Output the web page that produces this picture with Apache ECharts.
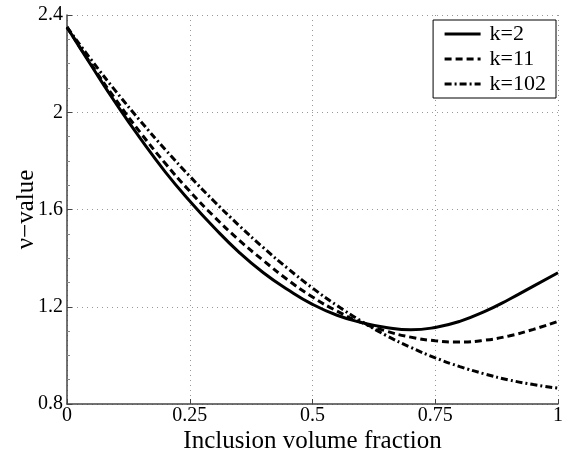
<!DOCTYPE html>
<html>
<head>
<meta charset="utf-8">
<script src="https://cdn.jsdelivr.net/npm/echarts@6/dist/echarts.min.js"></script>
<style>
html, body { margin: 0; padding: 0; background: #fff; }
#chart { width: 564px; height: 456px; }
</style>
</head>
<body>
<div id="chart"></div>
<script>
// volume fraction samples
var fractions = [0, 0.05, 0.1, 0.15, 0.2, 0.25, 0.3, 0.35, 0.4, 0.45, 0.5,
                 0.55, 0.6, 0.65, 0.7, 0.75, 0.8, 0.85, 0.9, 0.95, 1];
// nu-value
var k2   = [2.35, 2.19, 2.035, 1.89, 1.755, 1.635, 1.525, 1.425, 1.34, 1.27, 1.21,
            1.165, 1.135, 1.115, 1.105, 1.115, 1.14, 1.18, 1.23, 1.285, 1.34];
var k11  = [2.35, 2.195, 2.05, 1.915, 1.79, 1.675, 1.57, 1.475, 1.39, 1.31, 1.24,
            1.182, 1.135, 1.10, 1.075, 1.06, 1.055, 1.062, 1.08, 1.107, 1.14];
var k102 = [2.35, 2.214, 2.085, 1.963, 1.847, 1.737, 1.633, 1.535, 1.443, 1.357, 1.277,
            1.205, 1.14, 1.082, 1.033, 0.99, 0.954, 0.924, 0.899, 0.88, 0.865];
var names = ['k=2', 'k=11', 'k=102'];

var font = 'Liberation Serif';

var pairs = function (ys) {
    return fractions.map(function (x, i) { return [x, ys[i]]; });
};

var mkSeries = function (name, ys, dash) {
    return {
        name: name,
        type: 'line',
        smooth: true,
        symbol: 'none',
        lineStyle: { color: '#000', width: 3, type: dash },
        itemStyle: { color: '#000' },
        data: pairs(ys)
    };
};

var gridLine = { color: '#999', type: [1, 4], width: 1 };

var option = {
    backgroundColor: '#fff',
    animation: false,
    grid: { left: 67, right: 6, top: 15, bottom: 52, outerBoundsMode: 'none' },
    legend: {
        right: 8,
        top: 20,
        orient: 'vertical',
        data: names,
        backgroundColor: '#fff',
        borderColor: '#000',
        borderWidth: 1,
        padding: [3, 10, 3, 10],
        itemGap: 3,
        itemWidth: 36,
        itemHeight: 23,
        itemStyle: { opacity: 0 },
        lineStyle: { width: 3 },
        textStyle: { fontFamily: font, fontSize: 22, color: '#000', padding: [0, 0, 0, 4] }
    },
    xAxis: {
        type: 'value',
        min: 0, max: 1, interval: 0.25,
        name: 'Inclusion volume fraction',
        nameLocation: 'middle',
        nameGap: 25,
        nameMoveOverlap: false,
        nameTextStyle: { fontFamily: font, fontSize: 25, color: '#000' },
        axisLine: { lineStyle: { color: '#444', width: 1.5 } },
        axisTick: { inside: true, length: 5, lineStyle: { color: '#444' } },
        axisLabel: { fontFamily: font, fontSize: 20, color: '#000', margin: 2 },
        splitLine: { show: true, lineStyle: gridLine }
    },
    yAxis: {
        type: 'value',
        min: 0.8, max: 2.4, interval: 0.4,
        name: 'ν−value',
        nameLocation: 'middle',
        nameGap: 28,
        nameMoveOverlap: false,
        nameTextStyle: { fontFamily: font, fontSize: 25, color: '#000' },
        axisLine: { show: true, lineStyle: { color: '#444', width: 1.5 } },
        axisTick: { show: true, inside: true, length: 5, lineStyle: { color: '#444' } },
        minorTick: { show: true, splitNumber: 4, length: 3, lineStyle: { color: '#888' } },
        axisLabel: { fontFamily: font, fontSize: 20, color: '#000', margin: 4 },
        splitLine: { show: true, lineStyle: gridLine }
    },
    series: [
        mkSeries(names[0], k2, 'solid'),
        mkSeries(names[1], k11, [7, 4]),
        mkSeries(names[2], k102, [7, 3, 2, 3])
    ]
};

var myChart = echarts.init(document.getElementById('chart'));
myChart.setOption(option);
</script>
</body>
</html>
